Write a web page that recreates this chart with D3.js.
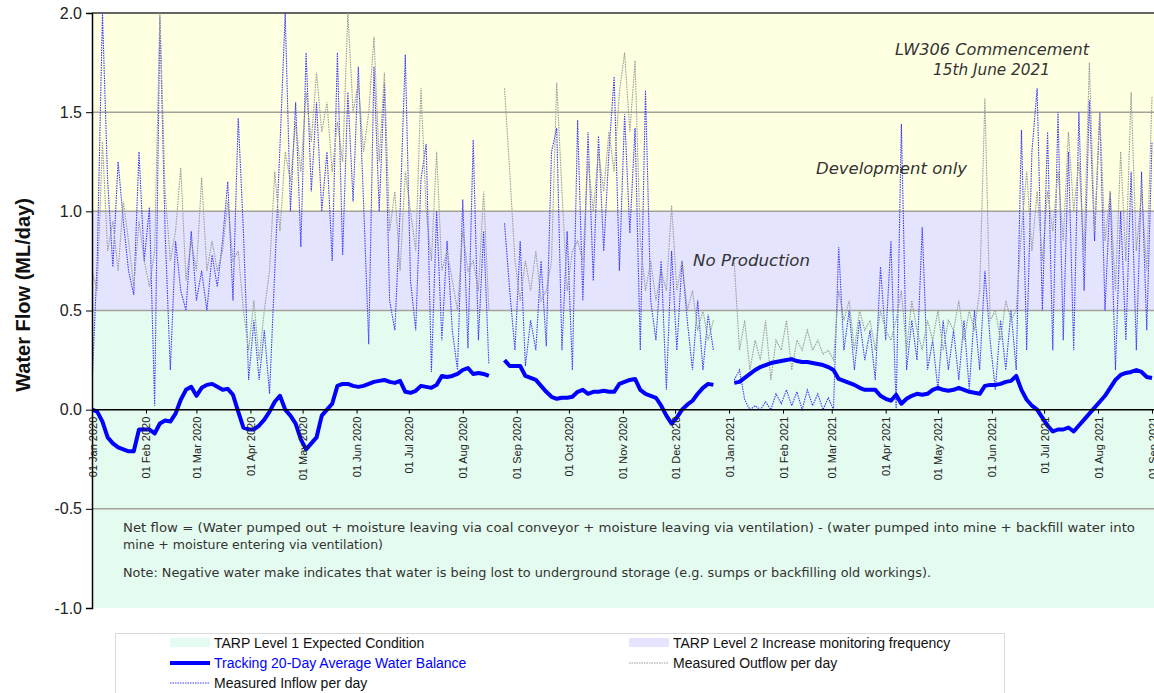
<!DOCTYPE html>
<html>
<head>
<meta charset="utf-8">
<script src="https://cdn.jsdelivr.net/npm/d3@7"></script>
<style>
  body { margin: 0; background: #fff; }
  svg { display: block; font-family: "Liberation Sans", Arial, sans-serif; }
</style>
</head>
<body>
<div id="chart"></div>
<script>
// sampled every 3 days starting 01 Jan 2020
var startDate = new Date(2020, 0, 1);
var stepDays = 3;

var inflow = [
  0.12,0.75,2.0,1.15,0.72,1.25,0.95,0.7,0.58,1.3,
  0.75,1.02,0.02,1.98,0.9,0.2,0.85,0.6,0.5,0.9,
  0.55,0.7,0.5,0.78,0.62,0.85,1.15,0.55,1.47,0.9,
  0.15,0.45,0.15,0.4,0.08,0.7,1.33,2.0,1.0,1.55,
  0.82,1.8,1.1,1.55,1.0,1.3,0.75,1.8,0.78,1.6,
  1.05,1.73,1.05,0.33,1.73,1.0,1.65,0.55,0.4,1.0,
  1.79,0.65,0.4,1.16,1.34,0.19,1.0,0.35,0.85,0.4,
  0.2,1.06,0.31,1.36,0.35,0.9,0.23,null,null,0.94,
  0.6,0.3,0.85,0.22,0.45,0.3,0.75,0.32,1.3,1.42,
  0.3,0.9,0.2,1.46,0.55,1.4,0.65,1.38,0.8,1.3,
  1.68,0.7,1.49,0.89,1.42,0.3,1.61,0.55,0.35,0.75,
  0.1,0.8,0.3,0.75,0.45,0.2,0.55,0.2,0.48,0.3,
  null,null,null,0.15,0.2,0.05,0.0,0.02,0.0,0.04,
  0.0,0.08,0.03,0.1,0.02,0.09,0.0,0.1,0.02,0.08,
  0.0,0.06,0.0,0.82,0.3,0.5,0.2,0.45,0.25,0.4,
  0.15,0.72,0.35,0.85,0.0,1.44,0.2,0.45,0.25,0.92,
  0.2,0.35,0.1,0.45,0.2,0.4,0.15,0.45,0.1,0.5,
  0.2,0.7,0.35,0.1,0.45,0.2,0.5,0.2,1.41,0.3,
  1.3,1.62,0.5,1.4,0.3,1.5,0.35,1.3,0.3,1.5,
  0.6,1.56,0.85,1.5,0.5,1.1,0.2,1.0,0.35,1.2,
  0.3,1.2,0.4,1.35
];

var outflow = [
  0.7,0.6,1.35,0.8,0.95,0.7,1.05,0.85,0.62,0.95,
  0.75,0.62,0.8,2.0,1.1,0.75,0.9,1.22,0.65,0.85,
  0.7,1.17,0.7,0.85,0.7,0.8,1.05,0.75,0.8,0.5,
  0.3,0.55,0.25,0.5,0.7,1.2,0.9,1.3,1.15,1.45,
  1.2,1.6,1.35,1.7,1.4,1.55,1.2,1.45,1.25,2.0,
  1.5,1.65,1.3,1.5,1.88,1.25,1.7,0.9,1.1,0.7,
  1.2,1.0,0.8,1.62,1.0,0.75,1.3,0.7,0.8,0.65,
  0.5,0.9,0.7,0.75,0.6,1.1,0.5,null,null,1.62,
  1.2,0.75,0.55,0.75,0.6,0.8,0.55,0.6,0.75,1.65,
  1.1,0.6,0.8,0.85,0.75,1.25,1.0,1.3,1.1,1.4,
  1.2,1.6,1.8,1.4,1.76,0.85,0.6,0.75,0.55,0.7,
  0.6,1.03,0.6,0.75,0.5,0.6,0.4,0.5,0.35,0.45,
  null,null,null,0.74,0.3,0.45,0.2,0.35,0.25,0.45,
  0.15,0.35,0.3,0.45,0.2,0.35,0.3,0.4,0.3,0.35,
  0.28,0.3,0.25,0.6,0.45,0.55,0.3,0.5,0.4,0.45,
  0.3,0.5,0.4,0.35,0.45,0.6,0.3,0.55,0.4,0.3,
  0.45,0.35,0.5,0.3,0.45,0.4,0.55,0.35,0.5,0.4,
  0.6,1.57,0.45,0.5,0.35,0.55,0.45,0.5,0.9,1.2,
  0.8,1.1,0.75,1.1,0.9,1.2,0.85,1.4,1.0,1.25,
  0.8,1.75,0.9,1.5,0.85,1.1,0.6,1.3,0.75,1.6,
  0.8,1.1,0.7,1.58
];

var average20 = [
  0.0,-0.01,-0.06,-0.14,-0.17,-0.19,-0.2,-0.21,-0.21,-0.1,
  -0.1,-0.1,-0.12,-0.07,-0.055,-0.06,-0.02,0.05,0.1,0.115,
  0.07,0.11,0.125,0.13,0.115,0.1,0.105,0.075,-0.01,-0.09,
  -0.1,-0.1,-0.08,-0.05,-0.01,0.04,0.07,0.0,-0.03,-0.07,
  -0.15,-0.2,-0.17,-0.14,-0.03,0.0,0.03,0.12,0.13,0.13,
  0.12,0.115,0.12,0.13,0.14,0.145,0.15,0.14,0.135,0.145,
  0.09,0.085,0.095,0.12,0.115,0.11,0.125,0.17,0.165,0.17,
  0.18,0.2,0.21,0.18,0.185,0.18,0.17,null,null,0.25,
  0.22,0.22,0.22,0.17,0.16,0.15,0.12,0.09,0.065,0.055,
  0.06,0.06,0.065,0.09,0.1,0.08,0.09,0.09,0.095,0.09,
  0.09,0.13,0.14,0.15,0.155,0.1,0.08,0.07,0.06,0.02,
  -0.03,-0.07,-0.04,0.0,0.025,0.045,0.08,0.11,0.13,0.125,
  null,null,null,0.135,0.14,0.16,0.18,0.2,0.215,0.225,
  0.235,0.24,0.245,0.25,0.255,0.245,0.24,0.24,0.235,0.23,
  0.225,0.215,0.2,0.155,0.145,0.135,0.125,0.11,0.1,0.1,
  0.1,0.07,0.055,0.045,0.075,0.03,0.055,0.07,0.08,0.075,
  0.08,0.1,0.11,0.1,0.095,0.1,0.11,0.1,0.09,0.085,
  0.08,0.12,0.125,0.125,0.13,0.14,0.145,0.17,0.1,0.05,
  0.02,0.0,-0.04,-0.08,-0.11,-0.1,-0.1,-0.09,-0.11,-0.08,
  -0.05,-0.02,0.01,0.04,0.07,0.11,0.15,0.175,0.185,0.19,
  0.2,0.19,0.165,0.16
];

var yTicks = [-1.0, -0.5, 0.0, 0.5, 1.0, 1.5, 2.0];
var bands = [
  {name: 'level1', from: -1.0, to: 0.5, color: '#e4fbef'},
  {name: 'level2', from: 0.5, to: 1.0, color: '#e4e4ff'},
  {name: 'dev', from: 1.0, to: 2.0, color: '#ffffe2'}
];
var legendItems = [
  {label: 'TARP Level 1 Expected Condition', type: 'box', color: '#e4fbef', col: 0, row: 0},
  {label: 'TARP Level 2 Increase monitoring frequency', type: 'box', color: '#e4e4ff', col: 1, row: 0},
  {label: 'Tracking 20-Day Average Water Balance', type: 'thick', color: '#0000ff', col: 0, row: 1},
  {label: 'Measured Outflow per day', type: 'dots', color: '#999999', col: 1, row: 1},
  {label: 'Measured Inflow per day', type: 'dots', color: '#3a3aff', col: 0, row: 2}
];
var noteLines = [
  'Net flow = (Water pumped out + moisture leaving via coal conveyor + moisture leaving via ventilation) - (water pumped into mine + backfill water into',
  'mine + moisture entering via ventilation)',
  'Note: Negative water make indicates that water is being lost to underground storage (e.g. sumps or backfilling old workings).'
];

var width = 1154, height = 693;
var plot = {left: 92, right: 1154, top: 13, bottom: 608};

var dates = inflow.map(function(d, i) { return d3.timeDay.offset(startDate, i * stepDays); });

var x = d3.scaleTime()
  .domain([new Date(2020, 0, 1), new Date(2021, 8, 1)])
  .range([92, 1152]);
var y = d3.scaleLinear().domain([-1, 2]).range([plot.bottom, plot.top]);

var svg = d3.select('#chart').append('svg')
  .attr('width', width).attr('height', height);

svg.append('defs').append('clipPath').attr('id', 'clip')
  .append('rect')
  .attr('x', plot.left).attr('y', plot.top)
  .attr('width', plot.right - plot.left).attr('height', plot.bottom - plot.top);

// background bands
svg.selectAll('.band').data(bands).enter().append('rect')
  .attr('class', 'band')
  .attr('x', plot.left)
  .attr('width', plot.right - plot.left)
  .attr('y', function(d) { return y(d.to); })
  .attr('height', function(d) { return y(d.from) - y(d.to); })
  .attr('fill', function(d) { return d.color; });

// grid lines
svg.selectAll('.grid').data([-0.5, 0.5, 1.0, 1.5]).enter().append('line')
  .attr('x1', plot.left).attr('x2', plot.right)
  .attr('y1', function(d) { return y(d); }).attr('y2', function(d) { return y(d); })
  .attr('stroke', '#a3a39a').attr('stroke-width', 1.5);
svg.append('line')
  .attr('x1', plot.left).attr('x2', plot.right)
  .attr('y1', y(2)).attr('y2', y(2))
  .attr('stroke', '#666').attr('stroke-width', 2);

// notes inside the plot
var notes = svg.append('g').attr('fill', '#333')
  .style('font-family', '"DejaVu Sans", sans-serif').style('font-size', '11.5px');
var noteY = [532, 549, 577], noteW = [1012, 260, 808];
noteLines.forEach(function(t, i) {
  notes.append('text').attr('x', 123).attr('y', noteY[i])
    .attr('textLength', noteW[i]).attr('lengthAdjust', 'spacingAndGlyphs')
    .text(t);
});

// series
var series = svg.append('g').attr('clip-path', 'url(#clip)');
function lineFor(values) {
  return d3.line()
    .defined(function(d) { return d != null; })
    .x(function(d, i) { return x(dates[i]); })
    .y(function(d) { return y(d); })(values);
}
series.append('path')
  .attr('d', lineFor(inflow))
  .attr('fill', 'none').attr('stroke', '#3a3aff')
  .attr('stroke-width', 1.1).attr('stroke-dasharray', '1.5,1');
series.append('path')
  .attr('d', lineFor(outflow))
  .attr('fill', 'none').attr('stroke', '#9a9a9a')
  .attr('stroke-width', 1.1).attr('stroke-dasharray', '1.5,1');

// zero line
svg.append('line')
  .attr('x1', plot.left).attr('x2', plot.right)
  .attr('y1', y(0)).attr('y2', y(0))
  .attr('stroke', '#000').attr('stroke-width', 1.5);

series.append('path')
  .attr('d', lineFor(average20))
  .attr('fill', 'none').attr('stroke', '#0000ff')
  .attr('stroke-width', 4).attr('stroke-linejoin', 'round');

// y axis
var yAxis = d3.axisLeft(y).tickValues(yTicks).tickSize(6).tickPadding(4)
  .tickFormat(function(d) { return d.toFixed(1); });
var yG = svg.append('g').attr('transform', 'translate(' + plot.left + ',0)').call(yAxis);
yG.select('.domain').attr('stroke', '#000').attr('stroke-width', 1.5);
yG.selectAll('text').style('font-size', '16px').attr('fill', '#222')
  .style('font-family', '"Liberation Sans", Arial, sans-serif');

// x axis on zero line
var months = d3.timeMonth.range(new Date(2020, 0, 1), new Date(2021, 8, 2));
var xAxis = d3.axisBottom(x).tickValues(months).tickSize(4)
  .tickFormat(d3.timeFormat('%d %b %Y'));
var xG = svg.append('g').attr('transform', 'translate(0,' + y(0) + ')').call(xAxis);
xG.select('.domain').remove();
xG.selectAll('text')
  .style('font-size', '11px').attr('fill', '#222')
  .style('font-family', '"Liberation Sans", Arial, sans-serif')
  .attr('text-anchor', 'end')
  .attr('dy', null)
  .attr('y', 0).attr('x', 0)
  .attr('transform', 'translate(4,7) rotate(-90)');

// y title
svg.append('text')
  .attr('transform', 'translate(30,295) rotate(-90)')
  .attr('text-anchor', 'middle')
  .style('font-size', '20px').style('font-weight', 'bold').attr('fill', '#111')
  .text('Water Flow (ML/day)');

// annotations
var ann = svg.append('g').attr('fill', '#333')
  .style('font-family', '"DejaVu Sans", sans-serif').style('font-style', 'italic').style('font-size', '15px');
[
  {t: 'LW306 Commencement', x: 895, y: 55, w: 194},
  {t: '15th June 2021', x: 933, y: 75, w: 117},
  {t: 'Development only', x: 816, y: 174, w: 151},
  {t: 'No Production', x: 693, y: 266, w: 117}
].forEach(function(a) {
  ann.append('text').attr('x', a.x).attr('y', a.y)
    .attr('textLength', a.w).attr('lengthAdjust', 'spacingAndGlyphs').text(a.t);
});

// legend
var legend = svg.append('g');
legend.append('rect')
  .attr('x', 115.5).attr('y', 633.5).attr('width', 889).attr('height', 70)
  .attr('fill', '#fff').attr('stroke', '#d9d9d9');
var colX = [170, 629], rowY = [643, 663, 683];
var items = legend.selectAll('.item').data(legendItems).enter().append('g')
  .attr('transform', function(d) { return 'translate(' + colX[d.col] + ',' + rowY[d.row] + ')'; });
items.each(function(d) {
  var g = d3.select(this);
  if (d.type === 'box') {
    g.append('rect').attr('x', 0).attr('y', -5).attr('width', 40).attr('height', 9).attr('fill', d.color);
  } else if (d.type === 'thick') {
    g.append('line').attr('x1', 0).attr('x2', 40).attr('y1', 0).attr('y2', 0)
      .attr('stroke', d.color).attr('stroke-width', 4);
  } else {
    g.append('line').attr('x1', 0).attr('x2', 40).attr('y1', 0).attr('y2', 0)
      .attr('stroke', d.color).attr('stroke-width', 1).attr('stroke-dasharray', '1.5,1');
  }
  g.append('text').attr('x', 44).attr('y', 5)
    .style('font-size', '14px')
    .attr('fill', d.type === 'thick' ? '#0000ff' : '#111')
    .text(d.label);
});
</script>
</body>
</html>
